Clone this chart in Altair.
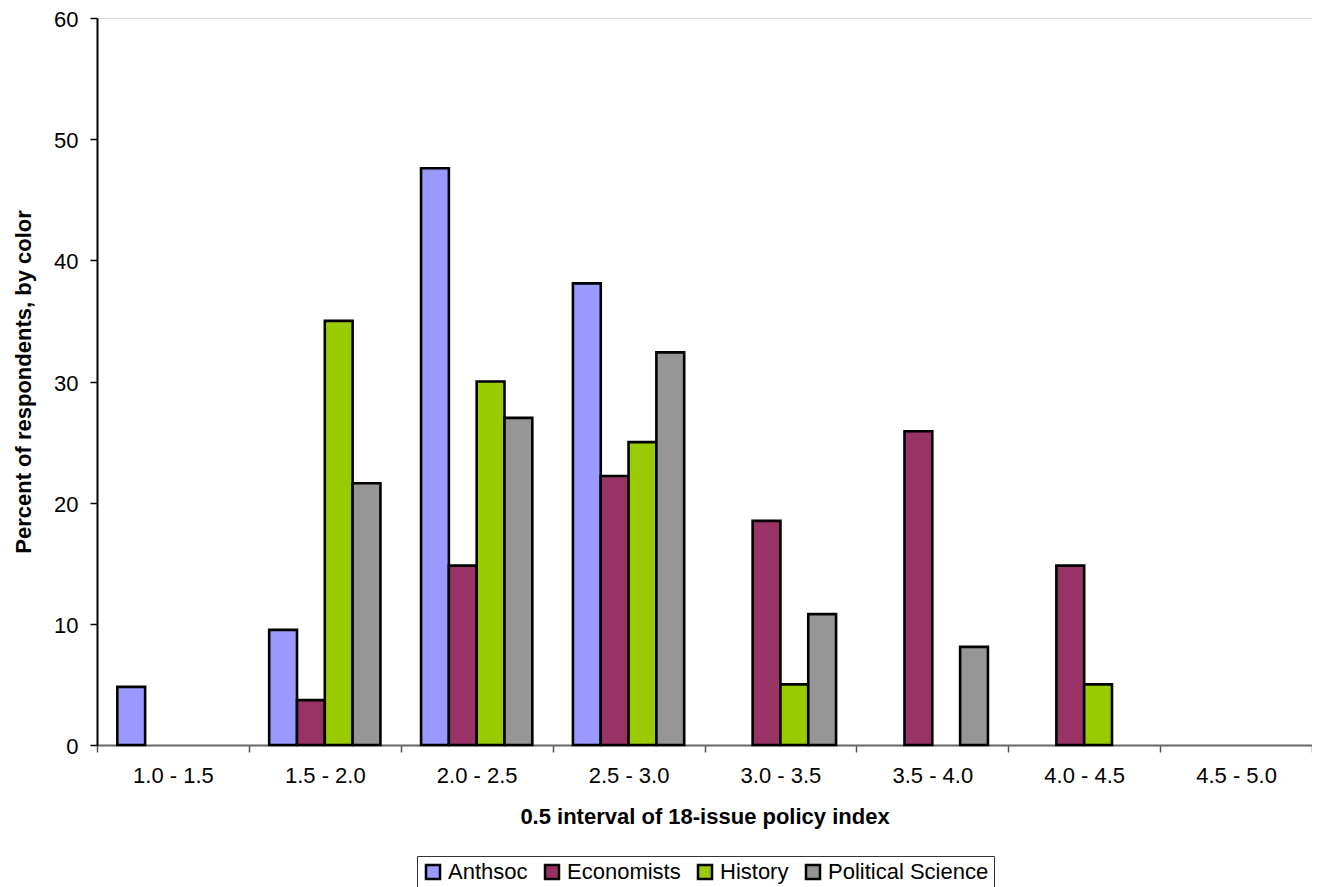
import altair as alt
import pandas as pd

categories = ["1.0 - 1.5", "1.5 - 2.0", "2.0 - 2.5", "2.5 - 3.0",
              "3.0 - 3.5", "3.5 - 4.0", "4.0 - 4.5", "4.5 - 5.0"]
series = ["Anthsoc", "Economists", "History", "Political Science"]
anthsoc = [4.8, 9.5, 47.6, 38.1, 0, 0, 0, 0]
economists = [0, 3.7, 14.8, 22.2, 18.5, 25.9, 14.8, 0]
history = [0, 35.0, 30.0, 25.0, 5.0, 0, 5.0, 0]
polsci = [0, 21.6, 27.0, 32.4, 10.8, 8.1, 0, 0]
colors = ["#9999FF", "#993366", "#99CC00", "#969696"]
y_ticks = [0, 10, 20, 30, 40, 50, 60]

rows = []
for s, vals in zip(series, [anthsoc, economists, history, polsci]):
    for c, v in zip(categories, vals):
        if v > 0:
            rows.append({"interval": c, "group": s, "percent": v})
df = pd.DataFrame(rows)

W = 1215
H = 727
FONT = "Liberation Sans"

chart = alt.Chart(df).mark_bar(stroke="black", strokeWidth=2.6).encode(
    x=alt.X(
        "interval:N", sort=categories,
        scale=alt.Scale(domain=categories, paddingInner=0, paddingOuter=0),
        axis=alt.Axis(
            title="0.5 interval of 18-issue policy index",
            labelAngle=0, tickBand="extent", labelFont=FONT, labelFontSize=22,
            labelColor="black", labelPadding=13, tickSize=7, tickColor="#555555",
            tickWidth=1.5, domainColor="#666666", domainWidth=2,
            titleFont=FONT, titleFontSize=22, titleFontWeight="bold", titleColor="black",
            titleX=W / 2, titleY=78, titleAlign="center", titleBaseline="alphabetic",
        ),
    ),
    xOffset=alt.XOffset(
        "group:N", sort=series,
        scale=alt.Scale(domain=series, paddingInner=0, paddingOuter=0.73),
    ),
    y=alt.Y(
        "percent:Q",
        scale=alt.Scale(domain=[0, 60], nice=False),
        axis=alt.Axis(
            values=y_ticks, grid=False, title="Percent of respondents, by color",
            labelFont=FONT, labelFontSize=22, labelColor="black", labelPadding=12,
            labelOffset=1.5,
            tickSize=7, tickColor="black", tickWidth=1.5, domainColor="black", domainWidth=2,
            titleFont=FONT, titleFontSize=22, titleFontWeight="bold", titleColor="black",
            titleAngle=270, titleX=-74, titleY=H / 2, titleAlign="center",
            titleBaseline="middle",
        ),
    ),
    color=alt.Color(
        "group:N", sort=series,
        scale=alt.Scale(domain=series, range=colors),
        legend=alt.Legend(
            title=None, orient="none", legendX=320, legendY=838,
            direction="horizontal", columns=4, symbolType="square", symbolSize=196,
            symbolStrokeColor="black", symbolStrokeWidth=2.5, symbolOpacity=1,
            labelFont=FONT, labelFontSize=22, labelColor="black", labelOffset=4,
            labelLimit=400, columnPadding=12, padding=5,
            strokeColor="#333333", fillColor="white",
        ),
    ),
).properties(
    width=W, height=H,
    padding={"left": 89, "top": 10, "right": 0, "bottom": 143},
    autosize=alt.AutoSizeParams(type="none"),
).configure_view(
    fill="#FFFFCC", stroke="#808080", strokeWidth=2
).configure(background="white")

chart.save("out.html", embed_options={"renderer": "svg", "actions": False})
